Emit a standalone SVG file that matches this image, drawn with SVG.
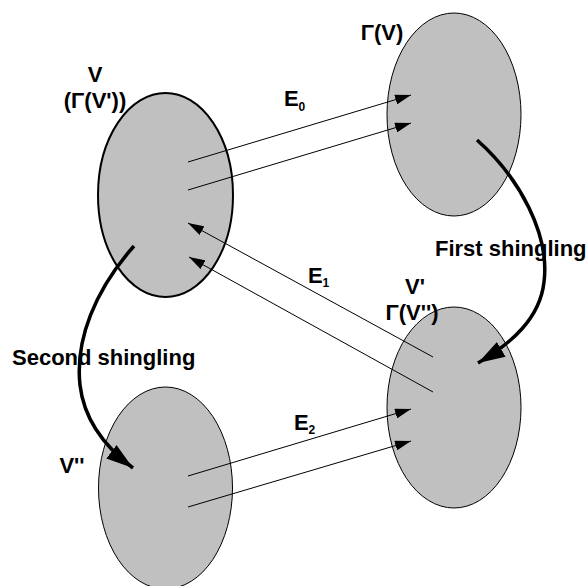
<svg xmlns="http://www.w3.org/2000/svg" width="587" height="586" viewBox="0 0 587 586">
<defs>
<marker id="thin" markerWidth="16" markerHeight="10" refX="16" refY="5" orient="auto" markerUnits="userSpaceOnUse"><path d="M0,0 L16,5 L0,10 Z" fill="#000"/></marker>
<marker id="thick" markerWidth="27" markerHeight="17" refX="27" refY="8.5" orient="auto" markerUnits="userSpaceOnUse"><path d="M0,0 L27,8.5 L0,17 Z" fill="#000"/></marker>
</defs>
<style>
.set{fill:#c0c0c0;stroke:#000;stroke-width:1}
.lbl{font-family:"Liberation Sans",Arial,sans-serif;font-weight:bold;font-size:22px;fill:#000}
.sub{font-family:"Liberation Sans",Arial,sans-serif;font-weight:bold;font-size:12px;fill:#000}
.edge{stroke:#000;stroke-width:1;fill:none;marker-end:url(#thin)}
.shing{stroke:#000;stroke-width:3.5;fill:none;marker-end:url(#thick)}
</style>
<rect width="587" height="586" fill="#fff"/>
<g id="node-V">
<ellipse class="set" cx="165.5" cy="195" rx="67.5" ry="102" style="stroke-width:2"/>
<text class="lbl" x="95" y="82" text-anchor="middle">V</text>
<text class="lbl" x="95" y="108" text-anchor="middle">(Γ(V'))</text>
</g>
<g id="node-GammaV">
<ellipse class="set" cx="454" cy="114.5" rx="67" ry="101.5"/>
<text class="lbl" x="382" y="40" text-anchor="middle">Γ(V)</text>
</g>
<g id="node-Vprime">
<ellipse class="set" cx="454" cy="407.5" rx="67" ry="100.5"/>
<text class="lbl" x="415" y="294" text-anchor="middle">V'</text>
<text class="lbl" x="412" y="320" text-anchor="middle">Γ(V'')</text>
</g>
<g id="node-Vdprime">
<ellipse class="set" cx="165.5" cy="488" rx="67" ry="101"/>
<text class="lbl" x="72" y="473" text-anchor="middle">V''</text>
</g>
<g id="connectors">
<line class="edge" x1="188" y1="162" x2="411" y2="95"/>
<line class="edge" x1="188" y1="190" x2="411" y2="123"/>
<line class="edge" x1="433" y1="357" x2="188" y2="223"/>
<line class="edge" x1="433" y1="392" x2="189" y2="257"/>
<line class="edge" x1="188" y1="476" x2="411" y2="409"/>
<line class="edge" x1="188" y1="507" x2="411" y2="441"/>
<path class="shing" d="M477,140 C520,178 550,235 544,282 C540,318 512,343 478,363"/>
<path class="shing" d="M134,246 C95,290 75,340 80,385 C84,420 105,447 133,468"/>
</g>
<g id="labels">
<text class="lbl" x="284" y="106">E</text><text class="sub" x="298.5" y="111">0</text>
<text class="lbl" x="308" y="283">E</text><text class="sub" x="322.5" y="287">1</text>
<text class="lbl" x="294" y="430">E</text><text class="sub" x="308.5" y="434">2</text>
<text class="lbl" x="435" y="256">First shingling</text>
<text class="lbl" x="12" y="365">Second shingling</text>
</g>
</svg>
